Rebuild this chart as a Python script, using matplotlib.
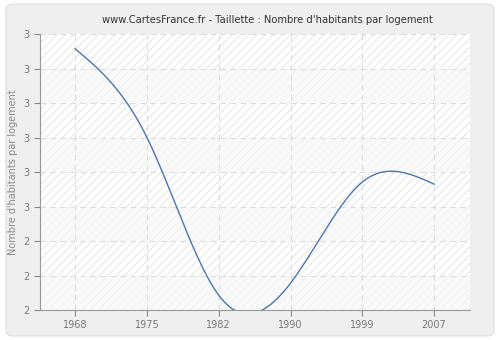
import numpy as np
import matplotlib.pyplot as plt
from matplotlib.patches import FancyBboxPatch

# Données
annees = ["1968", "1975", "1982", "1990", "1999", "2007"]
habitants_par_logement = [2.957, 2.70, 2.243, 2.278, 2.571, 2.565]
y_ticks = [2.2, 2.3, 2.4, 2.5, 2.6, 2.7, 2.8, 2.9, 3.0]
y_labels = ["2", "2", "2", "3", "3", "3", "3", "3", "3"]


def spline_naturelle(x, y, xs):
    # spline cubique naturelle, uniquement pour le tracé lissé de la courbe
    x = np.asarray(x, float)
    y = np.asarray(y, float)
    n = len(x)
    h = np.diff(x)
    A = np.zeros((n, n))
    b = np.zeros(n)
    A[0, 0] = A[-1, -1] = 1
    for i in range(1, n - 1):
        A[i, i - 1] = h[i - 1]
        A[i, i] = 2 * (h[i - 1] + h[i])
        A[i, i + 1] = h[i]
        b[i] = 6 * ((y[i + 1] - y[i]) / h[i] - (y[i] - y[i - 1]) / h[i - 1])
    M = np.linalg.solve(A, b)
    out = np.empty_like(xs)
    for k, t in enumerate(xs):
        i = min(max(np.searchsorted(x, t) - 1, 0), n - 2)
        a = x[i + 1] - t
        c = t - x[i]
        out[k] = (M[i] * a**3 + M[i + 1] * c**3) / (6 * h[i]) \
            + (y[i] / h[i] - M[i] * h[i] / 6) * a \
            + (y[i + 1] / h[i] - M[i + 1] * h[i] / 6) * c
    return out


plt.rcParams['hatch.linewidth'] = 0.6
plt.rcParams['hatch.color'] = '#e2e2e2'

fig = plt.figure(figsize=(5, 3.4), dpi=100, facecolor='white')
fond = FancyBboxPatch((0.012, 0.012), 0.976, 0.976,
                      boxstyle="round,pad=0,rounding_size=0.015",
                      transform=fig.transFigure, facecolor='#efefef',
                      edgecolor='#e2e2e2', linewidth=1, zorder=-10)
fig.patches.append(fond)

ax = fig.add_axes([0.08, 0.088, 0.86, 0.812])
ax.set_facecolor('white')

# fond hachuré avec bandes alternées plus grises
ax.axhspan(y_ticks[0], y_ticks[-1], facecolor='none', hatch='////',
           edgecolor='#e2e2e2', linewidth=0, zorder=0)
for i in range(len(y_ticks) - 1):
    if i % 2 == 0:
        ax.axhspan(y_ticks[i], y_ticks[i + 1], facecolor='#f7f7f7',
                   alpha=0.75, linewidth=0, zorder=0.5)

pos = np.arange(len(annees))
xs = np.linspace(pos[0], pos[-1], 400)
ax.plot(xs, spline_naturelle(pos, habitants_par_logement, xs),
        color='#4a76b0', linewidth=1, zorder=3)

ax.set_xlim(-0.49, 5.5)
ax.set_ylim(2.2, 3.0)
ax.set_xticks(pos)
ax.set_xticklabels(annees)
ax.set_yticks(y_ticks)
ax.set_yticklabels(y_labels)
ax.grid(True, color='#dddddd', linestyle=(0, (5, 4)), linewidth=0.8, zorder=1)

for cote in ['top', 'right']:
    ax.spines[cote].set_visible(False)
for cote in ['left', 'bottom']:
    ax.spines[cote].set_color('#999999')
ax.tick_params(colors='#888888', labelsize=7, length=4, width=0.8)
ax.tick_params(axis='both', labelcolor='#777777')

ax.set_ylabel("Nombre d'habitants par logement", fontsize=7, color='#888888')
ax.set_title("www.CartesFrance.fr - Taillette : Nombre d'habitants par logement",
             fontsize=7.2, color='#333333', pad=8, x=0.528)

fig.savefig('out.png', dpi=100, facecolor=fig.get_facecolor())
